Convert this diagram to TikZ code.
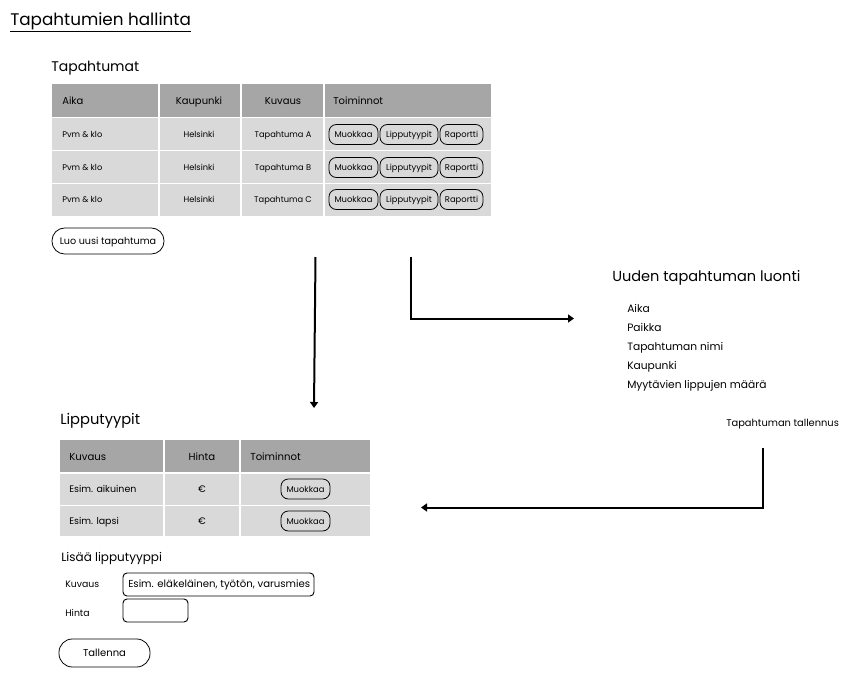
\documentclass[tikz,border=0pt]{standalone}
\usepackage{fontspec}
\setmainfont{Poppins}
\usetikzlibrary{arrows.meta}
\definecolor{hdr}{HTML}{A6A6A6}
\definecolor{rowc}{HTML}{D9D9D9}
\tikzset{
  every node/.style={text height=0.72em,text depth=0.2em},
  txt/.style={inner sep=0pt,anchor=west},
  ctr/.style={inner sep=0pt},
  btn/.style={draw,rounded corners=5.5pt,line width=0.6pt,font=\fontsize{6.3}{7}\selectfont,inner sep=0pt,minimum height=15pt},
  flow/.style={line width=1.5pt,-{Triangle[width=6pt,length=4.5pt]}},
  ttl/.style={inner sep=0pt,anchor=west,font=\fontsize{10.5}{12}\selectfont},
}
\begin{document}
\begin{tikzpicture}[x=0.75pt,y=-0.75pt]
\useasboundingbox (0,0) rectangle (865,682);
% title
\node[txt,font=\fontsize{12.6}{15}\selectfont,text height=,text depth=] (title) at (10,22.5) {\underline{Tapahtumien hallinta}};
% table 1
\node[ttl] (t1) at (51,68) {Tapahtumat};
\foreach \x/\w in {52/106,160/80,242/81,325/166}{
  \fill[hdr] (\x,84) rectangle ++(\w,33);
  \foreach \y in {118,151,184}{
    \fill[rowc] (\x,\y) rectangle ++(\w,31.5);
  }
}
\begin{scope}[font=\fontsize{7.5}{9}\selectfont]
\node[txt] (h1) at (62,101.5) {Aika};
\node[ctr] (h2) at (199,101.5) {Kaupunki};
\node[ctr] (h3) at (283,101.5) {Kuvaus};
\node[txt] (h4) at (333,101.5) {Toiminnot};
\end{scope}
\begin{scope}[font=\fontsize{6.2}{7}\selectfont]
\foreach \y/\l in {134/A,167/B,199/C}{
  \node[txt] (pvm\l) at (62,\y) {Pvm \& klo};
  \node[ctr] (hel\l) at (199,\y) {Helsinki};
  \node[ctr] (tap\l) at (283,\y) {Tapahtuma \l};
  \node[btn,minimum width=36.75pt] (m\l) at (353.5,\y+0.5) {Muokkaa};
  \node[btn,minimum width=43.5pt] (l\l) at (409,\y+0.5) {Lipputyypit};
  \node[btn,minimum width=32.25pt] (r\l) at (461.5,\y+0.5) {Raportti};
}
\end{scope}
\node[btn,minimum width=84pt,minimum height=19.5pt,rounded corners=9.5pt,font=\fontsize{7.2}{8}\selectfont] (luo) at (108,241) {Luo uusi tapahtuma};
% arrows
\coordinate (a1s) at (315.5,257);
\coordinate (a1e) at (314,408);
\draw[flow] (a1s) -- (a1e);
\coordinate (a2s) at (411,257);
\coordinate (a2e) at (574,318.5);
\draw[flow] (a2s) |- (a2e);
% new event
\node[ttl,font=\fontsize{10.9}{12}\selectfont] (uusi) at (612,278.5) {Uuden tapahtuman luonti};
\begin{scope}[font=\fontsize{8}{9}\selectfont]
\node[txt] (f1) at (627,309.5) {Aika};
\node[txt] (f2) at (627,328.5) {Paikka};
\node[txt] (f3) at (627,347.5) {Tapahtuman nimi};
\node[txt] (f4) at (627,366.5) {Kaupunki};
\node[txt] (f5) at (627,385.5) {Myytävien lippujen määrä};
\end{scope}
\node[txt,font=\fontsize{7.4}{8}\selectfont] (tall) at (726,423.5) {Tapahtuman tallennus};
\coordinate (a3s) at (762.5,448);
\coordinate (a3e) at (421,507.5);
\draw[flow] (a3s) |- (a3e);
% table 2
\node[ttl,font=\fontsize{11}{12}\selectfont] (t2) at (60,421) {Lipputyypit};
\foreach \x/\w in {60/103,165/74,241/129}{
  \fill[hdr] (\x,440) rectangle ++(\w,32);
  \fill[rowc] (\x,474) rectangle ++(\w,30.5);
  \fill[rowc] (\x,506) rectangle ++(\w,30);
}
\begin{scope}[font=\fontsize{7.6}{9}\selectfont]
\node[txt] (k1) at (69,457.5) {Kuvaus};
\node[ctr] (k2) at (202,457.5) {Hinta};
\node[txt] (k3) at (250,457.5) {Toiminnot};
\end{scope}
\begin{scope}[font=\fontsize{7.1}{8}\selectfont]
\node[txt] (e1) at (69,489.5) {Esim. aikuinen};
\node[ctr] (eu1) at (202,489.5) {€};
\node[txt] (e2) at (69,521.5) {Esim. lapsi};
\node[ctr] (eu2) at (202,521.5) {€};
\end{scope}
\node[btn,minimum width=36.75pt] (mm1) at (305.5,489) {Muokkaa};
\node[btn,minimum width=36.75pt] (mm2) at (305.5,521) {Muokkaa};
% add ticket type
\node[txt,font=\fontsize{9}{10}\selectfont] (lisaa) at (61,558) {Lisää lipputyyppi};
\begin{scope}[font=\fontsize{7}{8}\selectfont]
\node[txt] (lk) at (65,584.5) {Kuvaus};
\node[txt] (lh) at (65,613.5) {Hinta};
\end{scope}
\draw[rounded corners=3pt,line width=0.7pt] (123,573) rectangle (314,596);
\node[txt,font=\fontsize{7.6}{8}\selectfont] (ph) at (128,584.5) {Esim. eläkeläinen, työtön, varusmies};
\draw[rounded corners=3pt,line width=0.7pt] (123,599) rectangle (188,622);
\node[btn,minimum width=68.25pt,minimum height=21pt,rounded corners=10pt,font=\fontsize{7.5}{8}\selectfont] (tallenna) at (104.5,653) {Tallenna};
\end{tikzpicture}
\end{document}
